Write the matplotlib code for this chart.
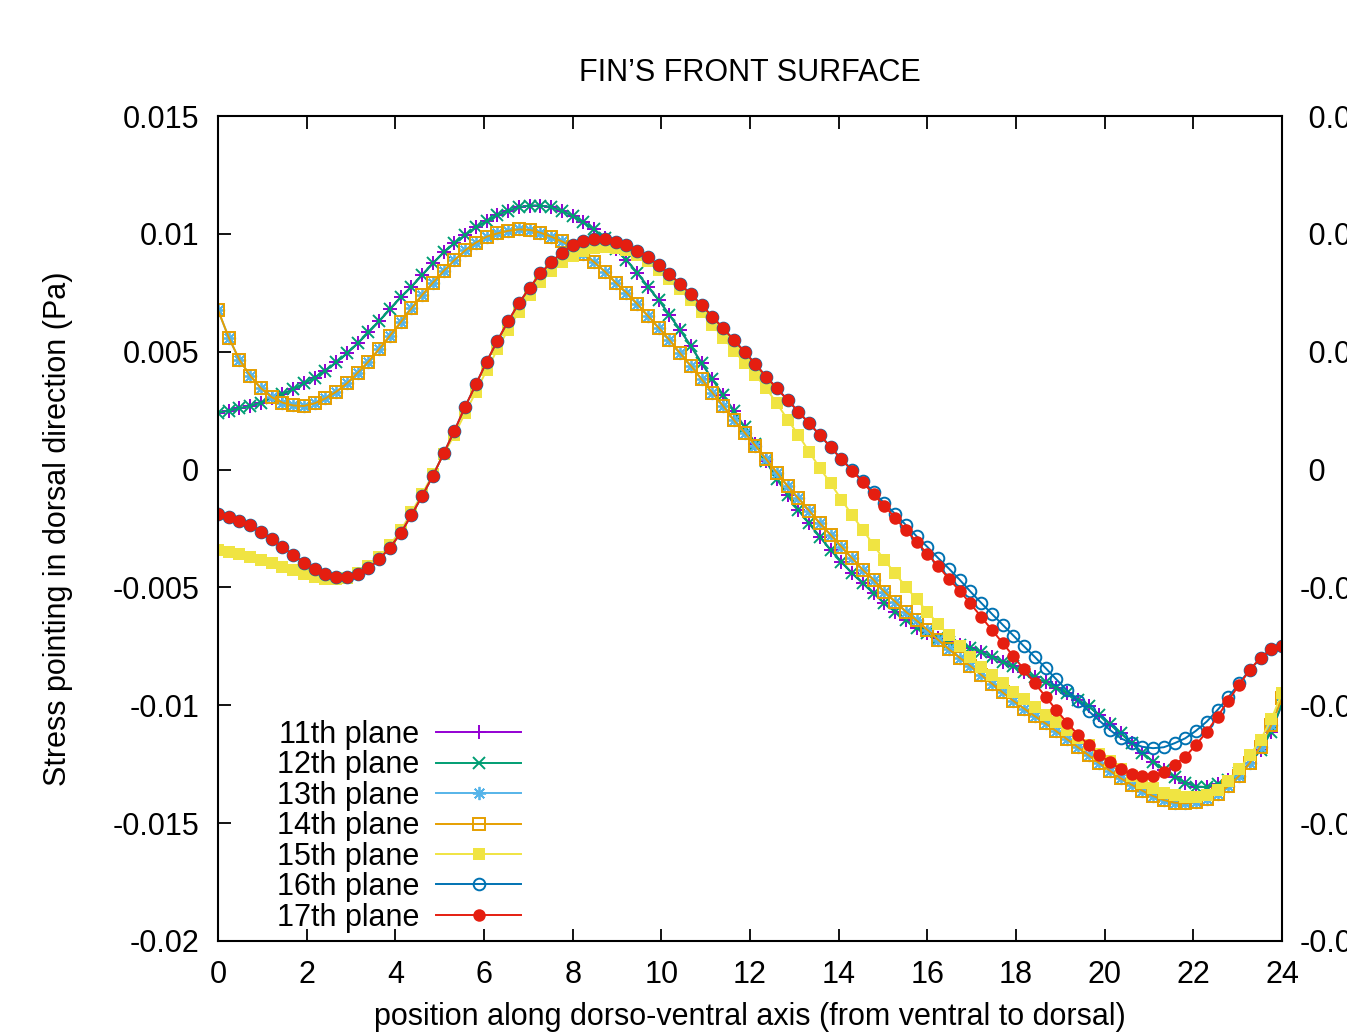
import numpy as np
import matplotlib
matplotlib.use("Agg")
import matplotlib.pyplot as plt

plt.rcParams['font.family'] = ['Liberation Sans', 'DejaVu Sans']
plt.rcParams['axes.unicode_minus'] = False

# sample positions along the dorso-ventral axis (100 stations, 0..24)
pos = np.linspace(0, 24, 100)

plane_11 = [
    0.00241, 0.00250, 0.00260, 0.00270, 0.00284, 0.00302, 0.00321, 0.00341, 0.00366, 0.00390,
    0.00420, 0.00455, 0.00493, 0.00536, 0.00582, 0.00630, 0.00681, 0.00731, 0.00776, 0.00826,
    0.00875, 0.00922, 0.00960, 0.00995, 0.01028, 0.01054, 0.01080, 0.01098, 0.01113, 0.01120,
    0.01120, 0.01113, 0.01098, 0.01076, 0.01049, 0.01019, 0.00981, 0.00935, 0.00889, 0.00835,
    0.00776, 0.00720, 0.00656, 0.00592, 0.00524, 0.00451, 0.00383, 0.00316, 0.00249, 0.00180,
    0.00110, 0.00035, -0.00040, -0.00108, -0.00172, -0.00228, -0.00285, -0.00341, -0.00391, -0.00440,
    -0.00482, -0.00525, -0.00567, -0.00603, -0.00638, -0.00670, -0.00695, -0.00715, -0.00731, -0.00744,
    -0.00756, -0.00774, -0.00794, -0.00815, -0.00835, -0.00857, -0.00882, -0.00903, -0.00926, -0.00948,
    -0.00976, -0.01005, -0.01040, -0.01080, -0.01119, -0.01159, -0.01201, -0.01239, -0.01274, -0.01303,
    -0.01328, -0.01345, -0.01347, -0.01333, -0.01315, -0.01288, -0.01246, -0.01190, -0.01112, -0.00995,
]
# 12th plane lies on top of the 11th one in the picture
plane_12 = list(plane_11)

plane_14 = [
    0.00677, 0.00560, 0.00465, 0.00398, 0.00345, 0.00307, 0.00284, 0.00272, 0.00270, 0.00281,
    0.00302, 0.00330, 0.00366, 0.00411, 0.00458, 0.00512, 0.00568, 0.00625, 0.00684, 0.00741,
    0.00793, 0.00843, 0.00889, 0.00930, 0.00963, 0.00988, 0.01002, 0.01013, 0.01019, 0.01017,
    0.01005, 0.00988, 0.00968, 0.00945, 0.00915, 0.00880, 0.00840, 0.00793, 0.00751, 0.00703,
    0.00652, 0.00602, 0.00550, 0.00493, 0.00440, 0.00383, 0.00326, 0.00270, 0.00210, 0.00157,
    0.00102, 0.00044, -0.00013, -0.00070, -0.00122, -0.00174, -0.00228, -0.00277, -0.00327, -0.00376,
    -0.00426, -0.00468, -0.00518, -0.00560, -0.00603, -0.00640, -0.00680, -0.00722, -0.00762, -0.00798,
    -0.00833, -0.00871, -0.00908, -0.00945, -0.00981, -0.01014, -0.01046, -0.01077, -0.01110, -0.01144,
    -0.01178, -0.01212, -0.01246, -0.01278, -0.01310, -0.01337, -0.01362, -0.01385, -0.01402, -0.01413,
    -0.01416, -0.01410, -0.01398, -0.01375, -0.01343, -0.01300, -0.01245, -0.01175, -0.01085, -0.00970,
]
# 13th plane coincides with the 14th
plane_13 = list(plane_14)

plane_15 = [
    -0.00341, -0.00350, -0.00360, -0.00372, -0.00385, -0.00398, -0.00412, -0.00427, -0.00442, -0.00455,
    -0.00463, -0.00464, -0.00458, -0.00440, -0.00410, -0.00370, -0.00320, -0.00258, -0.00182, -0.00102,
    -0.00020, 0.00065, 0.00148, 0.00240, 0.00330, 0.00422, 0.00510, 0.00594, 0.00670, 0.00740,
    0.00795, 0.00842, 0.00880, 0.00908, 0.00928, 0.00940, 0.00944, 0.00940, 0.00930, 0.00912,
    0.00883, 0.00848, 0.00808, 0.00764, 0.00718, 0.00668, 0.00615, 0.00560, 0.00505, 0.00452,
    0.00401, 0.00345, 0.00281, 0.00212, 0.00147, 0.00076, 0.00006, -0.00058, -0.00127, -0.00193,
    -0.00256, -0.00320, -0.00384, -0.00440, -0.00497, -0.00550, -0.00603, -0.00655, -0.00702, -0.00750,
    -0.00795, -0.00838, -0.00872, -0.00907, -0.00942, -0.00975, -0.01008, -0.01040, -0.01073, -0.01105,
    -0.01138, -0.01170, -0.01205, -0.01238, -0.01270, -0.01300, -0.01328, -0.01352, -0.01370, -0.01382,
    -0.01390, -0.01390, -0.01380, -0.01359, -0.01320, -0.01272, -0.01212, -0.01147, -0.01060, -0.00949,
]

plane_16 = [
    -0.00188, -0.00200, -0.00217, -0.00235, -0.00263, -0.00296, -0.00330, -0.00362, -0.00395, -0.00423,
    -0.00443, -0.00454, -0.00454, -0.00443, -0.00419, -0.00381, -0.00331, -0.00270, -0.00193, -0.00112,
    -0.00026, 0.00069, 0.00165, 0.00267, 0.00362, 0.00458, 0.00547, 0.00630, 0.00706, 0.00772,
    0.00832, 0.00880, 0.00920, 0.00952, 0.00970, 0.00977, 0.00977, 0.00967, 0.00953, 0.00929,
    0.00901, 0.00868, 0.00830, 0.00787, 0.00744, 0.00698, 0.00649, 0.00599, 0.00550, 0.00499,
    0.00448, 0.00394, 0.00345, 0.00295, 0.00246, 0.00196, 0.00147, 0.00095, 0.00046, -0.00002,
    -0.00048, -0.00096, -0.00143, -0.00188, -0.00235, -0.00283, -0.00328, -0.00375, -0.00420, -0.00467,
    -0.00517, -0.00565, -0.00612, -0.00658, -0.00704, -0.00750, -0.00795, -0.00842, -0.00890, -0.00937,
    -0.00981, -0.01024, -0.01065, -0.01105, -0.01140, -0.01161, -0.01176, -0.01182, -0.01178, -0.01161,
    -0.01140, -0.01108, -0.01069, -0.01020, -0.00966, -0.00907, -0.00850, -0.00801, -0.00762, -0.00748,
]

plane_17 = [
    -0.00188, -0.00200, -0.00217, -0.00235, -0.00263, -0.00296, -0.00330, -0.00362, -0.00395, -0.00423,
    -0.00443, -0.00454, -0.00454, -0.00443, -0.00419, -0.00381, -0.00331, -0.00270, -0.00193, -0.00112,
    -0.00026, 0.00069, 0.00165, 0.00267, 0.00362, 0.00458, 0.00547, 0.00630, 0.00706, 0.00772,
    0.00832, 0.00880, 0.00920, 0.00952, 0.00970, 0.00977, 0.00977, 0.00967, 0.00953, 0.00929,
    0.00901, 0.00868, 0.00830, 0.00787, 0.00744, 0.00698, 0.00649, 0.00599, 0.00550, 0.00499,
    0.00448, 0.00394, 0.00345, 0.00295, 0.00246, 0.00196, 0.00147, 0.00095, 0.00044, -0.00005,
    -0.00054, -0.00105, -0.00154, -0.00204, -0.00256, -0.00306, -0.00358, -0.00409, -0.00463, -0.00514,
    -0.00568, -0.00624, -0.00680, -0.00735, -0.00792, -0.00848, -0.00907, -0.00963, -0.01020, -0.01074,
    -0.01124, -0.01168, -0.01210, -0.01242, -0.01271, -0.01293, -0.01300, -0.01300, -0.01282, -0.01253,
    -0.01218, -0.01168, -0.01112, -0.01048, -0.00980, -0.00914, -0.00850, -0.00798, -0.00762, -0.00748,
]

x_ticks = [0, 2, 4, 6, 8, 10, 12, 14, 16, 18, 20, 22, 24]
y_ticks = [-0.02, -0.015, -0.01, -0.005, 0, 0.005, 0.01, 0.015]
y_labels = ["-0.02", "-0.015", "-0.01", "-0.005", "0", "0.005", "0.01", "0.015"]

FS = 22

fig = plt.figure(figsize=(13.47, 10.33), dpi=100)
ax = fig.add_axes([218/1347, 1 - 941/1033, 1064/1347, 825/1033])

series = [
    (plane_11, "11th plane", "#9400d3", dict(marker="+", ms=9.5, mew=1.4)),
    (plane_12, "12th plane", "#009e73", dict(marker="x", ms=8.5, mew=1.4)),
    (plane_13, "13th plane", "#56b4e9", dict(marker=(8, 2, 0), ms=9.5, mew=1.3)),
    (plane_14, "14th plane", "#e69f00", dict(marker="s", ms=9, mew=1.4, mfc="none")),
    (plane_15, "15th plane", "#f0e442", dict(marker="s", ms=9, mew=0)),
    (plane_16, "16th plane", "#0072b2", dict(marker="o", ms=8.4, mew=1.4, mfc="none")),
    (plane_17, "17th plane", "#e51e10", dict(marker="o", ms=9, mew=0)),
]
for vals, lab, col, mk in series:
    ax.plot(pos, vals, color=col, lw=1.4, label=lab, **mk)

ax.set_xlim(0, 24)
ax.set_ylim(-0.02, 0.015)
ax.set_xticks(x_ticks)
ax.set_xticklabels([str(t) for t in x_ticks], fontsize=FS)
ax.set_yticks(y_ticks)
ax.set_yticklabels(y_labels, fontsize=FS)
ax.tick_params(axis="both", direction="in", top=True, right=True,
               length=9, width=1.3)
ax.tick_params(axis="x", pad=14)
ax.tick_params(axis="y", pad=13.5)
for sp in ax.spines.values():
    sp.set_linewidth(1.5)

# right-hand labels (mirrored, clipped by the page edge)
ax2 = ax.twinx()
ax2.set_ylim(-0.02, 0.015)
ax2.set_yticks(y_ticks)
ax2.set_yticklabels([(" " + s) if not s.startswith("-") else s for s in y_labels],
                    fontsize=FS)
ax2.tick_params(axis="y", length=0, pad=13)
for sp in ax2.spines.values():
    sp.set_visible(False)

ax.set_title("FIN\u2019S FRONT SURFACE", fontsize=FS, y=1.052, va="center", pad=0)
ax.set_xlabel("position along dorso-ventral axis (from ventral to dorsal)", fontsize=FS)
ax.xaxis.set_label_coords(0.5, (941 - 1017) / 825)
ax.xaxis.label.set_va("center")
ax.set_ylabel("Stress pointing in dorsal direction (Pa)", fontsize=FS)
ax.yaxis.set_label_coords((58 - 218) / 1064, 0.5)
ax.yaxis.label.set_va("center")

ax.legend(loc="upper left", bbox_to_anchor=((277 - 218) / 1064, (941 - 720) / 825),
          frameon=False, markerfirst=False, fontsize=FS, handlelength=2.75,
          handletextpad=0.56, labelspacing=0.014, borderpad=0, borderaxespad=0)

fig.savefig("out.png", dpi=100)
